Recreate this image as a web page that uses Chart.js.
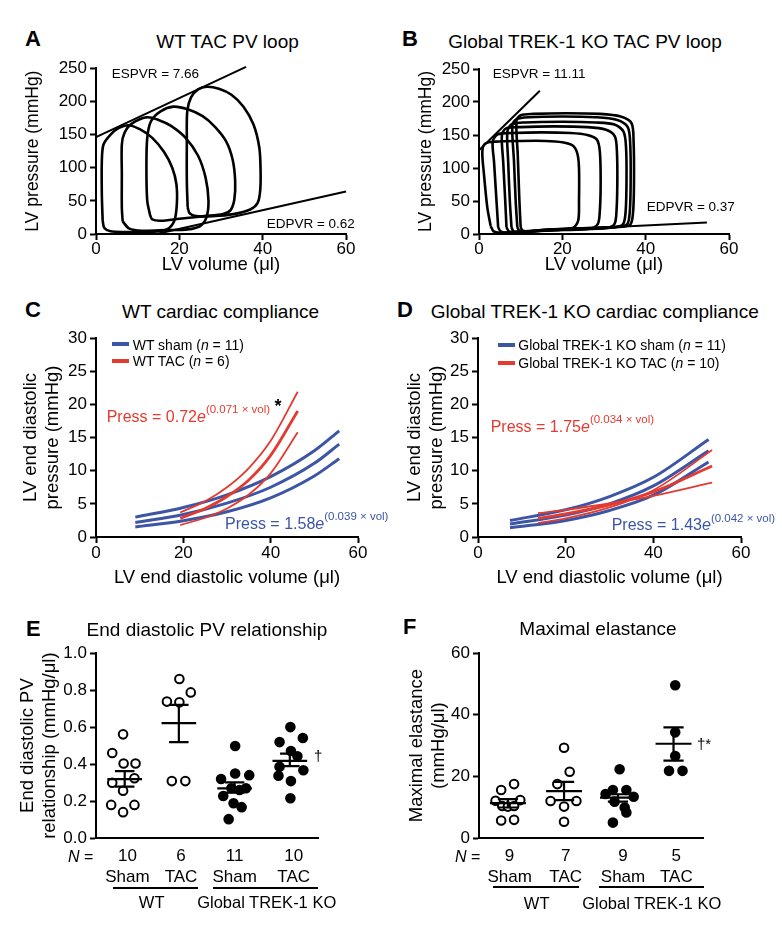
<!DOCTYPE html>
<html>
<head>
<meta charset="utf-8">
<script src="https://cdn.jsdelivr.net/npm/chart.js@4.4.1/dist/chart.umd.min.js"></script>
<style>
  body { margin: 0; width: 782px; height: 932px; position: relative; overflow: hidden; background: #fff;
         font-family: "Liberation Sans", Arial, Helvetica, sans-serif; color: #000; }
  canvas { position: absolute; }
  .t { position: absolute; white-space: nowrap; line-height: 1; z-index: 2; }
  .sup { position: relative; top: -8.5px; font-size: 11.5px; }
  .bar { position: absolute; height: 2px; background: #000; z-index: 2; }
  .sw { position: absolute; height: 4px; z-index: 2; }
</style>
</head>
<body>
<canvas id="pa"></canvas>
<canvas id="pb"></canvas>
<canvas id="pc"></canvas>
<canvas id="pd"></canvas>
<canvas id="pe"></canvas>
<canvas id="pf"></canvas>
<script>
const FONT = '"Liberation Sans", Arial, Helvetica, sans-serif';
const BLUE = '#3c55a5';
const RED = '#e43a2f';

// A: WT TAC PV loops, [volume (ul), pressure (mmHg)]
const wtLoops = [
  [[1.6,20],[1.4,60],[1.4,110],[1.8,135],[3.5,150],[5.5,160],[7.8,164],[10.5,158],[13.5,145],[16.3,124],[18.3,100],[19.3,75],[19.4,45],[18.8,20],[17,7],[13,3],[7,3],[3.5,4],[2,9],[1.6,20]],
  [[6.4,19],[6.2,40],[6.2,90],[6.2,135],[6.8,152],[8.5,166],[12.2,176],[15,172],[18,163],[21.5,145],[24.5,118],[26.3,85],[27,50],[26.5,25],[25,12],[22,7],[17,6],[11,5],[8,8],[6.4,19]],
  [[13,28],[12.3,50],[12.1,100],[12.3,145],[13.2,170],[15.5,185],[18.6,192],[22,188],[25.5,178],[28.5,162],[31.2,140],[32.8,112],[33.4,80],[33.2,52],[32.3,36],[30.5,30],[26,27],[20,23],[15.5,20],[13.5,22],[13,28]],
  [[22,40],[21.8,80],[21.8,140],[21.9,185],[22.8,206],[24.5,218],[26.6,222],[29.5,219],[32.5,210],[35.4,192],[37.8,165],[39.2,130],[39.5,95],[39.4,65],[38.8,47],[37,37],[33,30],[28,27],[24,27],[22.5,31],[22,40]]
];
const wtEspvr = [[0,146],[36,252]];
const wtEdpvr = [[14.5,0],[60,64]];

// B: Global TREK-1 KO TAC PV loops
const koLoops = [
  [[2.8,12],[2.0,40],[1.2,90],[0.8,125],[1.5,137],[4,140],[10,141],[16,141],[20,139],[22.5,134],[23.6,122],[24,100],[24,50],[23.8,20],[22.5,9],[18,6],[10,4],[5,2],[3.5,4],[2.8,12]],
  [[4.6,10],[4.2,50],[3.6,110],[3.3,140],[4.5,151],[8,153],[15,154],[22,153],[26,150],[28.3,143],[29,125],[29.2,80],[29,35],[28.5,15],[26.5,8],[20,6],[12,4],[7,2],[5.2,4],[4.6,10]],
  [[6.6,10],[6.3,50],[5.8,110],[5.5,150],[6.5,160],[10,162],[18,163],[26,162],[30.5,158],[32.6,148],[33.1,125],[33.2,80],[33,35],[32.5,15],[30.5,9],[23,7],[14,5],[9,3],[7.2,4],[6.6,10]],
  [[7.8,10],[7.4,50],[7,110],[6.8,155],[7.8,166],[11,169],[20,170],[28,169],[32.5,166],[34.7,155],[35.3,130],[35.4,80],[35.2,35],[34.6,15],[32.5,10],[25,8],[16,6],[10,3],[8.3,4],[7.8,10]],
  [[9.2,10],[8.8,50],[8.4,110],[8,165],[9,174],[12,177],[20,178],[28,177],[33,173],[35.7,162],[36.3,135],[36.4,80],[36.2,35],[35.6,15],[33.5,11],[26,9],[17,7],[11.5,4],[9.7,5],[9.2,10]],
  [[10,10],[9.7,50],[9.3,120],[9,172],[10,180],[13,182],[21,183],[29,182],[34,178],[36.6,168],[37.1,140],[37.2,80],[37,35],[36.4,15],[34.5,11],[27,9],[18,7],[12.5,4],[10.5,5],[10,10]]
];
const koEspvr = [[0,127],[14.6,217]];
const koEdpvr = [[20,7],[54.7,17.6]];

// C: WT compliance curves (end diastolic volume -> pressure)
const wtShamVol = [9, 20, 30, 40, 50, 55.7];
const wtShamUpper = [3.0, 4.45, 6.35, 9.1, 13.0, 16.0];
const wtShamFit = [2.2, 3.4, 5.1, 7.5, 11.1, 14.0];
const wtShamLower = [1.5, 2.45, 3.8, 5.9, 9.2, 11.8];
const wtTacVol = [19.3, 25, 30, 35, 40, 46.2];
const wtTacUpper = [3.7, 5.4, 7.5, 10.4, 14.5, 21.9];
const wtTacFit = [2.8, 4.3, 6.1, 8.6, 12.3, 19.0];
const wtTacLower = [1.8, 2.9, 4.3, 6.4, 9.6, 15.8];

// D: Global TREK-1 KO compliance curves
const koShamVol = [7.3, 20, 30, 40, 52.6];
const koShamUpper = [2.5, 4.1, 6.1, 9.0, 14.7];
const koShamFit = [1.95, 3.3, 5.0, 7.7, 13.0];
const koShamLower = [1.4, 2.5, 4.0, 6.3, 11.3];
const koTacVol = [13.7, 20, 30, 40, 53.4];
const koTacBandA = [3.6, 4.1, 5.05, 6.2, 8.2];
const koTacFit = [2.8, 3.5, 4.85, 6.8, 10.7];
const koTacBandB = [2.1, 2.8, 4.45, 7.05, 13.1];

// E: end diastolic PV relationship (mmHg/ul)
const groupNames = ['Sham', 'TAC', 'Sham', 'TAC'];
const edpvrN = [10, 6, 11, 10];
const edpvrTickAt = [0.98, 1.97, 2.96, 4.05];
const edpvrWtShamX = [0.90, 0.70, 0.91, 1.13, 0.70, 1.11, 0.90, 0.68, 1.11, 0.90];
const edpvrWtShamY = [0.561, 0.460, 0.403, 0.403, 0.299, 0.323, 0.256, 0.179, 0.179, 0.140];
const edpvrWtTacX = [1.94, 2.15, 1.71, 1.94, 1.80, 2.05];
const edpvrWtTacY = [0.860, 0.788, 0.738, 0.734, 0.308, 0.308];
const edpvrKoShamX = [2.97, 2.71, 2.97, 3.23, 2.75, 2.90, 3.05, 3.17, 2.94, 3.09, 2.85];
const edpvrKoShamY = [0.498, 0.319, 0.349, 0.340, 0.227, 0.269, 0.260, 0.269, 0.188, 0.167, 0.102];
const edpvrKoTacX = [3.99, 3.79, 4.22, 4.00, 4.12, 3.79, 4.23, 3.77, 4.00, 3.99];
const edpvrKoTacY = [0.600, 0.519, 0.541, 0.471, 0.442, 0.385, 0.367, 0.337, 0.308, 0.215];
const edpvrCenter = [0.93, 1.93, 2.96, 3.98];
const edpvrMean = [0.319, 0.622, 0.269, 0.417];
const edpvrSemHi = [0.362, 0.720, 0.301, 0.457];
const edpvrSemLo = [0.278, 0.519, 0.245, 0.389];

// F: maximal elastance (mmHg/ul)
const emaxN = [9, 7, 9, 5];
const emaxTickAt = [1.03, 2.03, 3.05, 4.0];
const emaxWtShamX = [1.11, 0.88, 0.78, 1.22, 0.90, 1.00, 1.11, 0.88, 1.11];
const emaxWtShamY = [17.5, 15.6, 12.1, 12.3, 10.4, 10.2, 10.4, 5.7, 5.9];
const emaxWtTacX = [2.00, 2.10, 1.88, 1.76, 2.22, 2.00, 2.00];
const emaxWtTacY = [29.3, 21.5, 17.5, 12.0, 12.0, 10.2, 5.3];
const emaxKoShamX = [2.99, 2.74, 2.87, 3.11, 3.24, 2.90, 3.08, 3.11, 2.87];
const emaxKoShamY = [22.3, 14.3, 15.6, 15.6, 13.4, 11.8, 9.9, 8.3, 5.0];
const emaxKoTacX = [3.98, 3.98, 3.98, 3.87, 4.11];
const emaxKoTacY = [49.6, 34.3, 26.6, 21.8, 21.8];
const emaxCenter = [1.0, 2.0, 2.96, 3.95];
const emaxMean = [11.3, 15.2, 13.1, 30.6];
const emaxSemHi = [12.6, 18.2, 14.2, 35.9];
const emaxSemLo = [9.9, 12.3, 11.8, 25.1];

// ---- dataset helpers ----
function pairLine(pairs, color, width, tension) {
  return { data: pairs.map(p => ({ x: p[0], y: p[1] })), showLine: true, borderColor: color,
           borderWidth: width, pointRadius: 0, tension: tension, clip: false };
}
function curve(xs, ys, color, width) {
  return { data: xs.map((x, i) => ({ x: x, y: ys[i] })), showLine: true, borderColor: color,
           borderWidth: width, pointRadius: 0, cubicInterpolationMode: 'monotone', borderCapStyle: 'butt' };
}
function dots(xs, ys, filled) {
  return { data: xs.map((x, i) => ({ x: x, y: ys[i] })), showLine: false, pointRadius: 4.3,
           pointBorderWidth: 2, pointBorderColor: '#000', pointBackgroundColor: filled ? '#000' : '#fff', clip: false };
}
function meanSem(center, mean, hi, lo) {
  const pts = [];
  center.forEach((c, i) => {
    pts.push({ x: c - 0.32, y: mean[i] }, { x: c + 0.32, y: mean[i] }, { x: c, y: null },
             { x: c, y: lo[i] }, { x: c, y: hi[i] }, { x: c, y: null },
             { x: c - 0.18, y: hi[i] }, { x: c + 0.18, y: hi[i] }, { x: c, y: null },
             { x: c - 0.18, y: lo[i] }, { x: c + 0.18, y: lo[i] }, { x: c, y: null });
  });
  return { data: pts, showLine: true, spanGaps: false, borderColor: '#000', borderWidth: 2.2, pointRadius: 0, clip: false };
}

// ---- panel helper: places canvas and pins the plot area ----
function panel(id, box, area, ax) {
  const cv = document.getElementById(id);
  cv.width = box.w; cv.height = box.h;
  cv.style.left = box.x + 'px'; cv.style.top = box.y + 'px';
  const xH = box.y + box.h - area.b, yW = area.l - box.x;
  const xLh = ax.xTitleSize * 1.2, yLh = ax.yTitleSize * 1.2;
  const tickFont = { family: FONT, size: 17 };
  return new Chart(cv, {
    type: 'scatter',
    data: { datasets: ax.datasets },
    options: {
      responsive: false, animation: false, events: [],
      layout: { padding: { left: 0, top: area.t - box.y, right: box.x + box.w - area.r, bottom: 0 } },
      plugins: { legend: { display: false }, tooltip: { enabled: false } },
      scales: {
        x: {
          type: 'linear', position: 'bottom', min: ax.xMin, max: ax.xMax,
          afterFit: s => { s.height = xH; },
          afterBuildTicks: s => { if (ax.xTicksAt) s.ticks = ax.xTicksAt.map(v => ({ value: v })); },
          grid: { drawOnChartArea: false, drawTicks: ax.xDrawTicks !== false, tickLength: 6, tickWidth: 2, tickColor: '#000', color: '#000' },
          border: { color: '#000', width: 2 },
          ticks: { stepSize: ax.xStep, padding: ax.xPad, color: '#000', font: tickFont, maxRotation: 0, autoSkip: false,
                   callback: ax.xCb || (v => v) },
          title: ax.xTitle ? { display: true, text: ax.xTitle, color: '#000', font: { family: FONT, size: ax.xTitleSize },
                   padding: { top: 0, bottom: box.y + box.h - ax.xTitleY - xLh / 2 } } : { display: false }
        },
        y: {
          type: 'linear', position: 'left', min: ax.yMin, max: ax.yMax,
          afterFit: s => { s.width = yW; },
          grid: { drawOnChartArea: false, tickLength: 6, tickWidth: 2, tickColor: '#000', color: '#000' },
          border: { color: '#000', width: 2 },
          ticks: { stepSize: ax.yStep, padding: 3, color: '#000', font: tickFont, callback: ax.yCb || (v => v) },
          title: { display: true, text: ax.yTitle, color: '#000', font: { family: FONT, size: ax.yTitleSize },
                   padding: { top: ax.yTitleX - box.x - yLh / 2, bottom: 0 } }
        }
      }
    }
  });
}

// A
panel('pa', { x: 0, y: 55, w: 390, h: 230 }, { l: 96, t: 68, r: 346, b: 234 }, {
  xMin: 0, xMax: 60, xStep: 20, xPad: -1, xTitle: 'LV volume (μl)', xTitleSize: 18.5, xTitleY: 265,
  yMin: 0, yMax: 250, yStep: 50, yTitle: 'LV pressure (mmHg)', yTitleSize: 17.5, yTitleX: 33,
  datasets: wtLoops.map(l => pairLine(l, '#000', 2.6, 0.3))
    .concat([pairLine(wtEspvr, '#000', 2, 0), pairLine(wtEdpvr, '#000', 2, 0)])
});

// B
panel('pb', { x: 390, y: 55, w: 392, h: 230 }, { l: 479, t: 69, r: 729, b: 234 }, {
  xMin: 0, xMax: 60, xStep: 20, xPad: -1, xTitle: 'LV volume (μl)', xTitleSize: 18.5, xTitleY: 265,
  yMin: 0, yMax: 250, yStep: 50, yTitle: 'LV pressure (mmHg)', yTitleSize: 17.5, yTitleX: 426,
  datasets: koLoops.map(l => pairLine(l, '#000', 2.6, 0.3))
    .concat([pairLine(koEspvr, '#000', 2, 0), pairLine(koEdpvr, '#000', 2, 0)])
});

// C
panel('pc', { x: 0, y: 322, w: 390, h: 270 }, { l: 96, t: 338, r: 358, b: 537 }, {
  xMin: 0, xMax: 60, xStep: 20, xPad: 0.5, xTitle: 'LV end diastolic volume (μl)', xTitleSize: 18.5, xTitleY: 578,
  yMin: 0, yMax: 30, yStep: 5, yTitle: ['LV end diastolic', 'pressure (mmHg)'], yTitleSize: 18.5, yTitleX: 31,
  datasets: [
    curve(wtTacVol, wtTacUpper, RED, 1.8), curve(wtTacVol, wtTacFit, RED, 2.8), curve(wtTacVol, wtTacLower, RED, 1.8),
    curve(wtShamVol, wtShamUpper, BLUE, 3), curve(wtShamVol, wtShamFit, BLUE, 3), curve(wtShamVol, wtShamLower, BLUE, 3)
  ]
});

// D
panel('pd', { x: 390, y: 322, w: 392, h: 270 }, { l: 478, t: 338, r: 741, b: 537 }, {
  xMin: 0, xMax: 60, xStep: 20, xPad: 0.5, xTitle: 'LV end diastolic volume (μl)', xTitleSize: 18.5, xTitleY: 578,
  yMin: 0, yMax: 30, yStep: 5, yTitle: ['LV end diastolic', 'pressure (mmHg)'], yTitleSize: 18.5, yTitleX: 415,
  datasets: [
    curve(koTacVol, koTacBandA, RED, 1.8), curve(koTacVol, koTacFit, RED, 2.8), curve(koTacVol, koTacBandB, RED, 1.8),
    curve(koShamVol, koShamUpper, BLUE, 3), curve(koShamVol, koShamFit, BLUE, 3), curve(koShamVol, koShamLower, BLUE, 3)
  ]
});

// E
panel('pe', { x: 0, y: 640, w: 390, h: 292 }, { l: 96, t: 652, r: 318, b: 838 }, {
  xMin: 0.4, xMax: 4.5, xTicksAt: edpvrTickAt, xDrawTicks: false, xPad: 8.5, xTitleSize: 18,
  xCb: (v, i) => [String(edpvrN[i]), groupNames[i]],
  yMin: 0, yMax: 1, yStep: 0.2, yCb: v => v.toFixed(1),
  yTitle: ['End diastolic PV', 'relationship (mmHg/μl)'], yTitleSize: 18.5, yTitleX: 28,
  datasets: [
    meanSem(edpvrCenter, edpvrMean, edpvrSemHi, edpvrSemLo),
    dots(edpvrWtShamX, edpvrWtShamY, false), dots(edpvrWtTacX, edpvrWtTacY, false),
    dots(edpvrKoShamX, edpvrKoShamY, true), dots(edpvrKoTacX, edpvrKoTacY, true)
  ]
});

// F
panel('pf', { x: 390, y: 640, w: 392, h: 292 }, { l: 479, t: 652, r: 703, b: 838 }, {
  xMin: 0.485, xMax: 4.475, xTicksAt: emaxTickAt, xDrawTicks: false, xPad: 8.5, xTitleSize: 18,
  xCb: (v, i) => [String(emaxN[i]), groupNames[i]],
  yMin: 0, yMax: 60, yStep: 20,
  yTitle: ['Maximal elastance', '(mmHg/μl)'], yTitleSize: 18.5, yTitleX: 417,
  datasets: [
    meanSem(emaxCenter, emaxMean, emaxSemHi, emaxSemLo),
    dots(emaxWtShamX, emaxWtShamY, false), dots(emaxWtTacX, emaxWtTacY, false),
    dots(emaxKoShamX, emaxKoShamY, true), dots(emaxKoTacX, emaxKoTacY, true)
  ]
});

// ---- text around the plots ----
function txt(html, x, base, size, center, extra) {
  const d = document.createElement('div');
  d.className = 't';
  d.innerHTML = html;
  d.style.left = x + 'px';
  d.style.top = (base - 0.85 * size) + 'px';
  d.style.fontSize = size + 'px';
  if (center) d.style.transform = 'translateX(-50%)';
  if (extra) d.style.cssText += extra;
  document.body.appendChild(d);
}
function bar(x1, x2, y) {
  const d = document.createElement('div');
  d.className = 'bar';
  d.style.left = x1 + 'px'; d.style.width = (x2 - x1) + 'px'; d.style.top = (y - 1) + 'px';
  document.body.appendChild(d);
}
function swatch(x1, x2, y, color) {
  const d = document.createElement('div');
  d.className = 'sw';
  d.style.left = x1 + 'px'; d.style.width = (x2 - x1) + 'px'; d.style.top = (y - 2) + 'px';
  d.style.background = color;
  document.body.appendChild(d);
}

const letter = 'font-weight:bold;';
txt('A', 25, 47, 22, false, letter);
txt('WT TAC PV loop', 227.5, 48, 19, true);
txt('B', 402, 47, 22, false, letter);
txt('Global TREK-1 KO TAC PV loop', 585, 48, 19, true);
txt('C', 25, 318, 22, false, letter);
txt('WT cardiac compliance', 220.5, 318, 19, true);
txt('D', 397, 318, 22, false, letter);
txt('Global TREK-1 KO cardiac compliance', 594.7, 318, 19, true);
txt('E', 26, 637, 22, false, letter);
txt('End diastolic PV relationship', 207, 636, 19, true);
txt('F', 403, 635, 22, false, letter);
txt('Maximal elastance', 598, 635, 19, true);

txt('ESPVR = 7.66', 111.7, 78, 13.5);
txt('EDPVR = 0.62', 266.7, 228, 13.5);
txt('ESPVR = 11.11', 492.7, 78, 13.5);
txt('EDPVR = 0.37', 646.7, 211.7, 13.5);

swatch(112, 129, 344, BLUE);
swatch(112, 129, 361, RED);
txt('WT sham (<i>n</i> = 11)', 132.7, 349.5, 14);
txt('WT TAC (<i>n</i> = 6)', 132.7, 366, 14);
swatch(498, 515, 345, BLUE);
swatch(498, 515, 362.7, RED);
txt('Global TREK-1 KO sham (<i>n</i> = 11)', 518.3, 350, 14);
txt('Global TREK-1 KO TAC (<i>n</i> = 10)', 518.3, 367.5, 14);

txt('Press = 0.72<i>e</i><span class="sup">(0.071 × vol)</span>', 106.7, 422.3, 16, false, 'color:' + RED);
txt('*', 274.5, 412, 18, false, 'font-weight:bold;');
txt('Press = 1.58<i>e</i><span class="sup">(0.039 × vol)</span>', 225, 529.3, 16, false, 'color:' + BLUE);
txt('Press = 1.75<i>e</i><span class="sup">(0.034 × vol)</span>', 490.7, 432.3, 16, false, 'color:' + RED);
txt('Press = 1.43<i>e</i><span class="sup">(0.042 × vol)</span>', 611.7, 530.7, 16, false, 'color:' + BLUE);

txt('†', 314, 761, 15);
txt('†*', 697, 748.5, 15);

txt('<i>N</i> =', 68, 862.5, 16);
bar(112.7, 198.3, 887.7);
bar(212.7, 317.7, 887.7);
txt('WT', 151.7, 908.5, 16.5, true);
txt('Global TREK-1 KO', 266.7, 908.5, 16.5, true);

txt('<i>N</i> =', 455, 862.5, 16);
bar(492.7, 579.3, 886.7);
bar(599.3, 704.3, 886.7);
txt('WT', 536.7, 909, 16.5, true);
txt('Global TREK-1 KO', 651.7, 909, 16.5, true);
</script>
</body>
</html>
